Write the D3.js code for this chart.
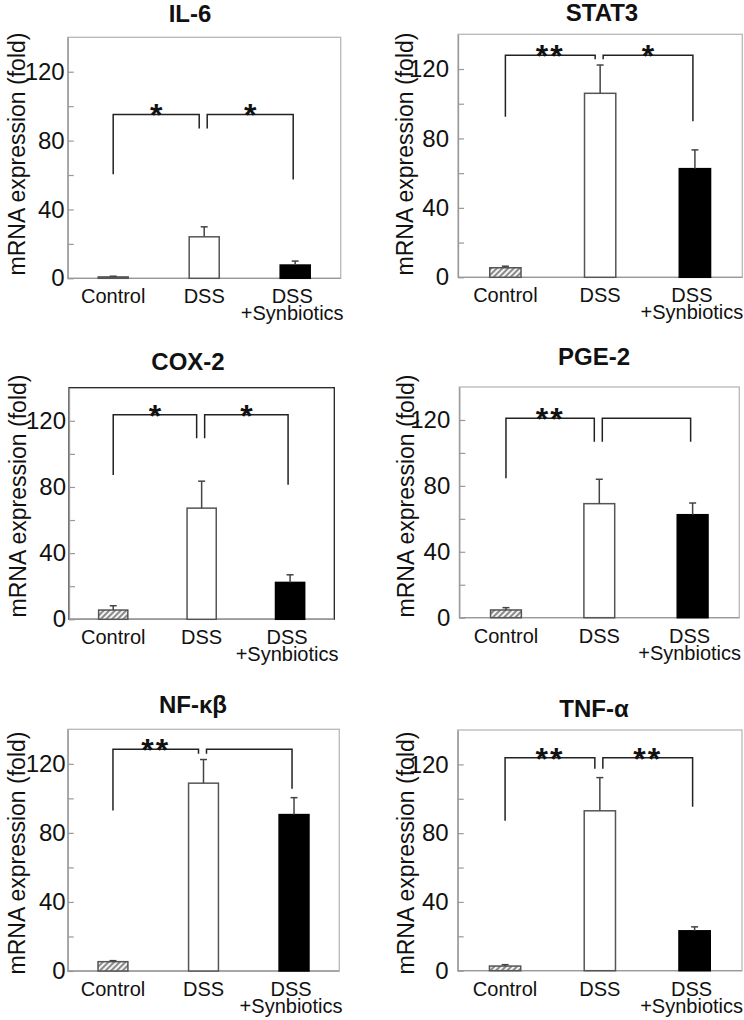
<!DOCTYPE html>
<meta charset="utf-8">
<title>mRNA expression panels</title>
<body style="margin:0;background:#fff">
<svg id="fig" width="744" height="1020"></svg>
<script src="https://d3js.org/d3.v7.min.js"></script>
<script>
  // ---------------- data ----------------
  const genes = ["IL-6", "STAT3", "COX-2", "PGE-2", "NF-κβ", "TNF-α"];
  const groups = ["Control", "DSS", "DSS+Synbiotics"];
  const groupLines = [["Control"], ["DSS"], ["DSS", "+Synbiotics"]];

  // mean fold change per gene, in group order
  const means = [
    [0.8, 24.1, 7.7],
    [5.5, 106.0, 62.6],
    [5.6, 67.2, 22.3],
    [4.7, 69.2, 62.5],
    [5.4, 108.8, 90.6],
    [2.7, 93.0, 23.2]
  ];
  // upper error (SD) per gene
  const errors = [
    [0.4, 5.8, 2.3],
    [0.9, 16.3, 10.8],
    [2.6, 16.3, 4.6],
    [1.4, 14.8, 7.1],
    [0.6, 13.7, 9.8],
    [0.8, 19.3, 2.3]
  ];
  // significance brackets: [control drop, top, DSS drop, synbiotics drop]
  const brackets = [
    [60.5, 95.2, 87.0, 57.4],
    [92.5, 127.9, 125.6, 89.9],
    [87.3, 123.7, 109.4, 81.3],
    [84.6, 121.0, 106.8, 106.8],
    [93.0, 128.5, 125.8, 105.6],
    [87.2, 123.9, 117.5, 95.3]
  ];
  const stars = [
    ["*", "*"],
    ["**", "*"],
    ["*", "*"],
    ["**", ""],
    ["**", ""],
    ["**", "**"]
  ];
  const yMax = 140;
  const majorTicks = [0, 40, 80, 120];
  const minorTicks = [20, 60, 100];

  // ---------------- panel layout ----------------
  const panels = [
    {l: 67.7, r: 340.7, t: 37.3, b: 278.3, tx: 190, ty: 22, lx: 25, ly: 154, pad: 3, box: "#b8b8b8"},
    {l: 458, r: 742.3, t: 34.3, b: 277.3, tx: 602, ty: 21, lx: 413, ly: 154, pad: 9, box: "#b8b8b8"},
    {l: 69, r: 334.3, t: 387.7, b: 619.3, tx: 188, ty: 370, lx: 26, ly: 496, pad: 3, box: "#222"},
    {l: 459.3, r: 739.3, t: 387, b: 617.7, tx: 594, ty: 365, lx: 414, ly: 496, pad: 9, box: "#b8b8b8"},
    {l: 67.7, r: 339.3, t: 729.3, b: 971, tx: 193, ty: 713, lx: 25, ly: 853, pad: 2, box: "#b8b8b8"},
    {l: 457.7, r: 742, t: 730, b: 970.7, tx: 594, ty: 717, lx: 414, ly: 853, pad: 9, box: "#b8b8b8"}
  ];

  const svg = d3.select("#fig");
  const font = "'Liberation Sans', Arial, sans-serif";

  const defs = svg.append("defs");
  const pat = defs.append("pattern")
      .attr("id", "hatch")
      .attr("width", 4).attr("height", 4)
      .attr("patternUnits", "userSpaceOnUse")
      .attr("patternTransform", "rotate(45)");
  pat.append("rect").attr("width", 4).attr("height", 4).attr("fill", "#f4f4f4");
  pat.append("line").attr("x1", 1).attr("y1", 0).attr("x2", 1).attr("y2", 4)
      .attr("stroke", "#444").attr("stroke-width", 1.2);

  const fills = ["url(#hatch)", "#fff", "#000"];
  const strokes = ["#555", "#555", "#000"];

  panels.forEach((p, i) => {
    const g = svg.append("g");

    const x = d3.scaleBand().domain(groups).range([p.l, p.r]).paddingInner(0.67).paddingOuter(0.335);
    const y = d3.scaleLinear().domain([0, yMax]).range([p.b, p.t]);
    const cx = k => x(groups[k]) + x.bandwidth() / 2;

    // frame
    g.append("rect")
        .attr("x", p.l).attr("y", p.t)
        .attr("width", p.r - p.l).attr("height", p.b - p.t)
        .attr("fill", "none").attr("stroke", p.box).attr("stroke-width", 1.3);

    // y axis, ticks point inward
    const ax = g.append("g")
        .attr("transform", `translate(${p.l},0)`)
        .call(d3.axisLeft(y)
            .tickValues(majorTicks.concat(minorTicks))
            .tickSizeInner(-6).tickSizeOuter(0)
            .tickPadding(p.pad)
            .tickFormat(d => majorTicks.includes(d) ? d : ""));
    ax.select(".domain").attr("stroke", "#999").attr("stroke-width", 1.3);
    ax.selectAll(".tick line").attr("stroke", "#999").attr("stroke-width", 1.2);
    ax.selectAll(".tick text")
        .attr("font-family", font).attr("font-size", 24).attr("fill", "#111");

    // bottom axis line
    g.append("line")
        .attr("x1", p.l).attr("x2", p.r)
        .attr("y1", y(0)).attr("y2", y(0))
        .attr("stroke", "#999").attr("stroke-width", 1.3);

    // bars
    g.selectAll("rect.bar")
        .data(means[i])
        .join("rect")
        .attr("class", "bar")
        .attr("x", (d, k) => x(groups[k]))
        .attr("y", d => y(d))
        .attr("width", x.bandwidth())
        .attr("height", d => y(0) - y(d))
        .attr("fill", (d, k) => fills[k])
        .attr("stroke", (d, k) => strokes[k])
        .attr("stroke-width", 1.5);

    // error bars (upper only)
    means[i].forEach((m, k) => {
      const top = y(m + errors[i][k]);
      g.append("line")
          .attr("x1", cx(k)).attr("x2", cx(k))
          .attr("y1", y(m)).attr("y2", top)
          .attr("stroke", "#444").attr("stroke-width", 1.5);
      g.append("line")
          .attr("x1", cx(k) - 3.5).attr("x2", cx(k) + 3.5)
          .attr("y1", top).attr("y2", top)
          .attr("stroke", "#444").attr("stroke-width", 1.5);
    });

    // significance brackets
    const br = brackets[i];
    const xl = cx(0), xm1 = cx(1) - 5, xm2 = cx(1) + 3, xr = cx(2) - 2;
    const line = d3.line();
    g.append("path")
        .attr("d", line([[xl, y(br[0])], [xl, y(br[1])], [xm1, y(br[1])], [xm1, y(br[2])]]))
        .attr("fill", "none").attr("stroke", "#222").attr("stroke-width", 1.5);
    g.append("path")
        .attr("d", line([[xm2, y(br[2])], [xm2, y(br[1])], [xr, y(br[1])], [xr, y(br[3])]]))
        .attr("fill", "none").attr("stroke", "#222").attr("stroke-width", 1.5);

    [(xl + xm1) / 2, (xm2 + xr) / 2].forEach((sx, s) => {
      g.append("text")
          .attr("x", sx).attr("y", y(br[1]) + 12)
          .attr("text-anchor", "middle")
          .attr("font-family", font).attr("font-size", 32).attr("font-weight", "bold")
          .attr("letter-spacing", stars[i][s].length > 1 ? 2 : 0)
          .attr("fill", "#111")
          .text(stars[i][s]);
    });

    // category labels
    groupLines.forEach((lines, k) => {
      const t = g.append("text")
          .attr("text-anchor", "middle")
          .attr("font-family", font).attr("font-size", 20).attr("fill", "#111");
      const shift = k === 2 ? -3 : 0;
      lines.forEach((s, j) => {
        t.append("tspan").attr("x", cx(k) + shift).attr("y", p.b + 25 + j * 17).text(s);
      });
    });

    // title
    g.append("text")
        .attr("x", p.tx).attr("y", p.ty)
        .attr("text-anchor", "middle")
        .attr("font-family", font).attr("font-weight", "bold").attr("font-size", 24)
        .attr("fill", "#111")
        .text(genes[i]);

    // y label
    g.append("text")
        .attr("transform", `translate(${p.lx},${p.ly}) rotate(-90)`)
        .attr("text-anchor", "middle")
        .attr("font-family", font).attr("font-size", 23)
        .attr("fill", "#111")
        .text("mRNA expression (fold)");
  });
</script>
</body>
